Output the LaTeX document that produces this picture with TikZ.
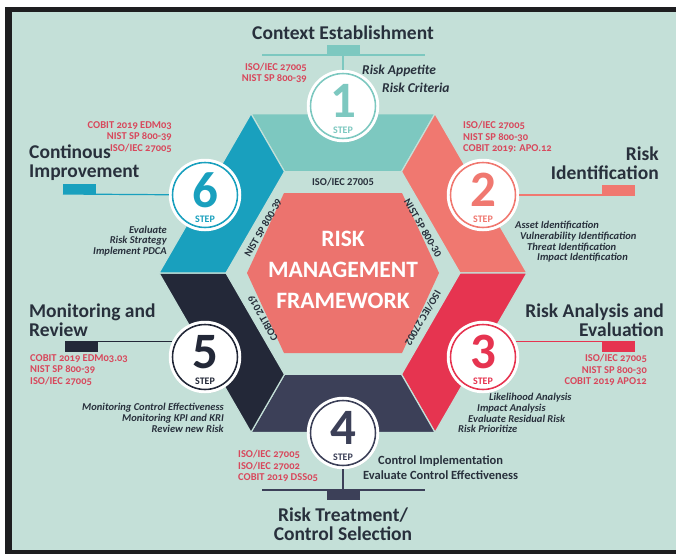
\documentclass[tikz,border=0pt]{standalone}
\usepackage{fontspec}
\setmainfont{Carlito}
\newfontfamily\reffont[Numbers=OldStyle]{Carlito}
\usepackage{tikz}
\usetikzlibrary{positioning,calc,shadows}
\usepackage{xcolor}
\definecolor{bgmint}{RGB}{196,224,216}
\definecolor{framedark}{RGB}{30,30,32}
\definecolor{stepteal}{RGB}{125,200,192}
\definecolor{stepcoral}{RGB}{240,120,112}
\definecolor{stepred}{RGB}{230,52,80}
\definecolor{stepnavy}{RGB}{60,64,88}
\definecolor{stepdark}{RGB}{35,40,56}
\definecolor{stepblue}{RGB}{25,160,190}
\definecolor{coresalmon}{RGB}{236,115,110}
\definecolor{refred}{RGB}{216,72,92}
\definecolor{inkdark}{RGB}{40,48,60}
\tikzstyle{seg} = [draw=bgmint, line width=1.2pt]
\tikzstyle{title} = [font=\fontsize{19.5}{19}\selectfont\bfseries, text=inkdark, inner sep=0pt]
\tikzstyle{ref} = [font=\reffont\fontsize{10.5}{11.5}\selectfont\bfseries, text=refred, inner sep=0pt]
\tikzstyle{task} = [font=\fontsize{10.5}{10.7}\selectfont\bfseries\itshape, text=inkdark, inner sep=0pt]
\tikzstyle{std} = [font=\fontsize{10.5}{11}\selectfont\bfseries, text=inkdark, inner sep=0pt]
\tikzstyle{coretxt} = [font=\fontsize{23.5}{24}\selectfont\bfseries, text=white, inner sep=0pt]
\tikzset{
  stepc/.style={circle, minimum size=70pt, inner sep=0pt, fill=white, draw=white, line width=2.5pt,
    drop shadow={opacity=0.2, shadow xshift=0.8pt, shadow yshift=-1.2pt},
    path picture={\draw[#1, line width=1.6pt] (path picture bounding box.center) circle (32.5pt);}},
  bignum/.style={font=\fontsize{51}{51}\selectfont\bfseries, text=#1, inner sep=0pt},
  stepword/.style={font=\fontsize{10}{10}\selectfont\bfseries, text=#1, inner sep=0pt},
  tab/.style={fill=#1, minimum width=33pt, minimum height=10pt, inner sep=0pt},
  lnk/.style={draw=#1, line width=1.2pt}
}

\begin{document}
\begin{tikzpicture}[x=1pt, y=-1pt]
\useasboundingbox (0,0) rectangle (676,554);
% Backdrop and frame
\fill[white] (0,0) rectangle (676,554);
\fill[framedark] (5,7) rectangle (676,554);
\fill[bgmint] (12,12) rectangle (676,550);

% Hexagon ring
\coordinate (hc) at (343,273);
\foreach \a in {0,60,...,300} {
    \coordinate (o\a) at ($(hc)+(-\a:184)$);
    \coordinate (i\a) at ($(hc)+(-\a:117)$);
}
\fill[stepteal, seg] (o120) -- (o60) -- (i60) -- (i120) -- cycle;
\fill[stepcoral, seg] (o60) -- (o0) -- (i0) -- (i60) -- cycle;
\fill[stepred, seg] (o0) -- (o300) -- (i300) -- (i0) -- cycle;
\fill[stepnavy, seg] (o300) -- (o240) -- (i240) -- (i300) -- cycle;
\fill[stepdark, seg] (o240) -- (o180) -- (i180) -- (i240) -- cycle;
\fill[stepblue, seg] (o180) -- (o120) -- (i120) -- (i180) -- cycle;

% Core
\fill[coresalmon] (284,193) -- (402,193) -- (439,273) -- (402,353) -- (284,353) -- (247,273) -- cycle;
\node[coretxt] (coremid) at (343,270) {MANAGEMENT};
\node[coretxt, above=31pt of coremid.center, anchor=center] (coretop) {RISK};
\node[coretxt, below=31pt of coremid.center, anchor=center] (corebot) {FRAMEWORK};

% Standards round the core
\node[std] (bandt) at (343,182) {ISO/IEC 27005};
\node[std, rotate=-60] (bandur) at (423,228) {NIST SP 800-30};
\node[std, rotate=-120] (bandlr) at (423,318) {ISO/IEC 27002};
\node[std, rotate=60] (bandul) at (263,228) {NIST SP 800-39};
\node[std, rotate=120] (bandll) at (263,318) {COBIT 2019};

% Step circles
\foreach \st/\px/\py/\col in {1/343/106/stepteal, 2/483/195/stepcoral, 3/483/357/stepred,
                               4/343/433/stepnavy, 5/205/357/stepdark, 6/205/195/stepblue} {
    \node[stepc=\col] (s\st) at (\px,\py) {};
    \node[bignum=\col] (n\st) at ([yshift=5pt]s\st.center) {\st};
    \node[stepword=\col] (w\st) at ([yshift=-24pt]s\st.center) {STEP};
}

% Step 1
\node[title] (h1) at (343,33) {Context Establishment};
\coordinate (t1) at (343,55);
\coordinate (t1l) at (262,55);
\coordinate (t1r) at (425,55);
\draw[lnk=stepteal] (s1) -- (t1);
\draw[lnk=stepteal] (t1l) -- (t1r);
\node[tab=stepteal, anchor=south] (r1) at (t1) {};
\node[ref, align=right, anchor=east] (c1) at (307,73) {ISO/IEC 27005\\NIST SP 800-39};
\node[task, font=\fontsize{13.5}{18}\selectfont\bfseries\itshape, align=left, anchor=west] (k1) at (362,79) {Risk Appetite\\\hspace*{20pt}Risk Criteria};

% Step 2
\node[title, align=right, anchor=east] (h2) at (659,163) {Risk\\Identification};
\coordinate (t2) at (635,195);
\draw[lnk=stepcoral] (s2) -- (t2);
\node[tab=stepcoral, anchor=south east] (r2) at (t2) {};
\node[ref, align=left, anchor=west] (c2) at (463,137) {ISO/IEC 27005\\NIST SP 800-30\\COBIT 2019: APO.12};
\node[task, align=left, anchor=west] (k2) at (515,242) {Asset Identification\\\hspace*{5pt}Vulnerability Identification\\\hspace*{12pt}Threat Identification\\\hspace*{22pt}Impact Identification};

% Step 3
\node[title, align=right, anchor=east] (h3) at (664,320) {Risk Analysis and\\Evaluation};
\coordinate (t3) at (635,342);
\draw[lnk=stepred] (s3.25) -- (s3.25 -| t3);
\node[tab=stepred, anchor=north east] (r3) at (t3) {};
\node[ref, align=right, anchor=east] (c3) at (647,370) {ISO/IEC 27005\\NIST SP 800-30\\COBIT 2019 APO12};
\node[task, align=left, anchor=west] (k3) at (458,413) {\hspace*{31pt}Likelihood Analysis\\\hspace*{19pt}Impact Analysis\\\hspace*{10pt}Evaluate Residual Risk\\Risk Prioritize};

% Step 4
\node[title, align=center] (h4) at (343,524) {Risk Treatment/\\Control Selection};
\coordinate (t4) at (343,490);
\coordinate (t4l) at (262,490);
\coordinate (t4r) at (425,490);
\draw[lnk=stepnavy] (s4) -- (t4);
\draw[lnk=stepnavy] (t4l) -- (t4r);
\node[tab=stepnavy, anchor=north] (r4) at (t4) {};
\node[ref, align=left, anchor=west] (c4) at (238,466) {ISO/IEC 27005\\ISO/IEC 27002\\COBIT 2019 DSS05};
\node[task, font=\fontsize{12.5}{15}\selectfont\bfseries, align=left, anchor=west] (k4) at (363,468) {\hspace*{15pt}Control Implementation\\Evaluate Control Effectiveness};

% Step 5
\node[title, align=left, anchor=west] (h5) at (29,320) {Monitoring and\\Review};
\coordinate (t5) at (65,342);
\draw[lnk=stepdark] (s5.155) -- (s5.155 -| t5);
\node[tab=stepdark, anchor=north west] (r5) at (t5) {};
\node[ref, align=left, anchor=west] (c5) at (30,370) {COBIT 2019 EDM03.03\\NIST SP 800-39\\ISO/IEC 27005};
\node[task, align=right, anchor=east] (k5) at (224,418) {Monitoring Control Effectiveness\\Monitoring KPI and KRI\\Review new Risk};

% Step 6
\node[title, align=left, anchor=west] (h6) at (29,163) {Continous\\Improvement};
\coordinate (t6) at (63,194);
\draw[lnk=stepblue] (s6) -- (t6);
\node[tab=stepblue, anchor=south west] (r6) at (t6) {};
\node[ref, align=right, anchor=east] (c6) at (172,137) {COBIT 2019 EDM03\\NIST SP 800-39\\ISO/IEC 27005};
\node[task, align=right, anchor=east] (k6) at (167,241) {Evaluate\\Risk Strategy\\Implement PDCA};
\end{tikzpicture}
\end{document}
